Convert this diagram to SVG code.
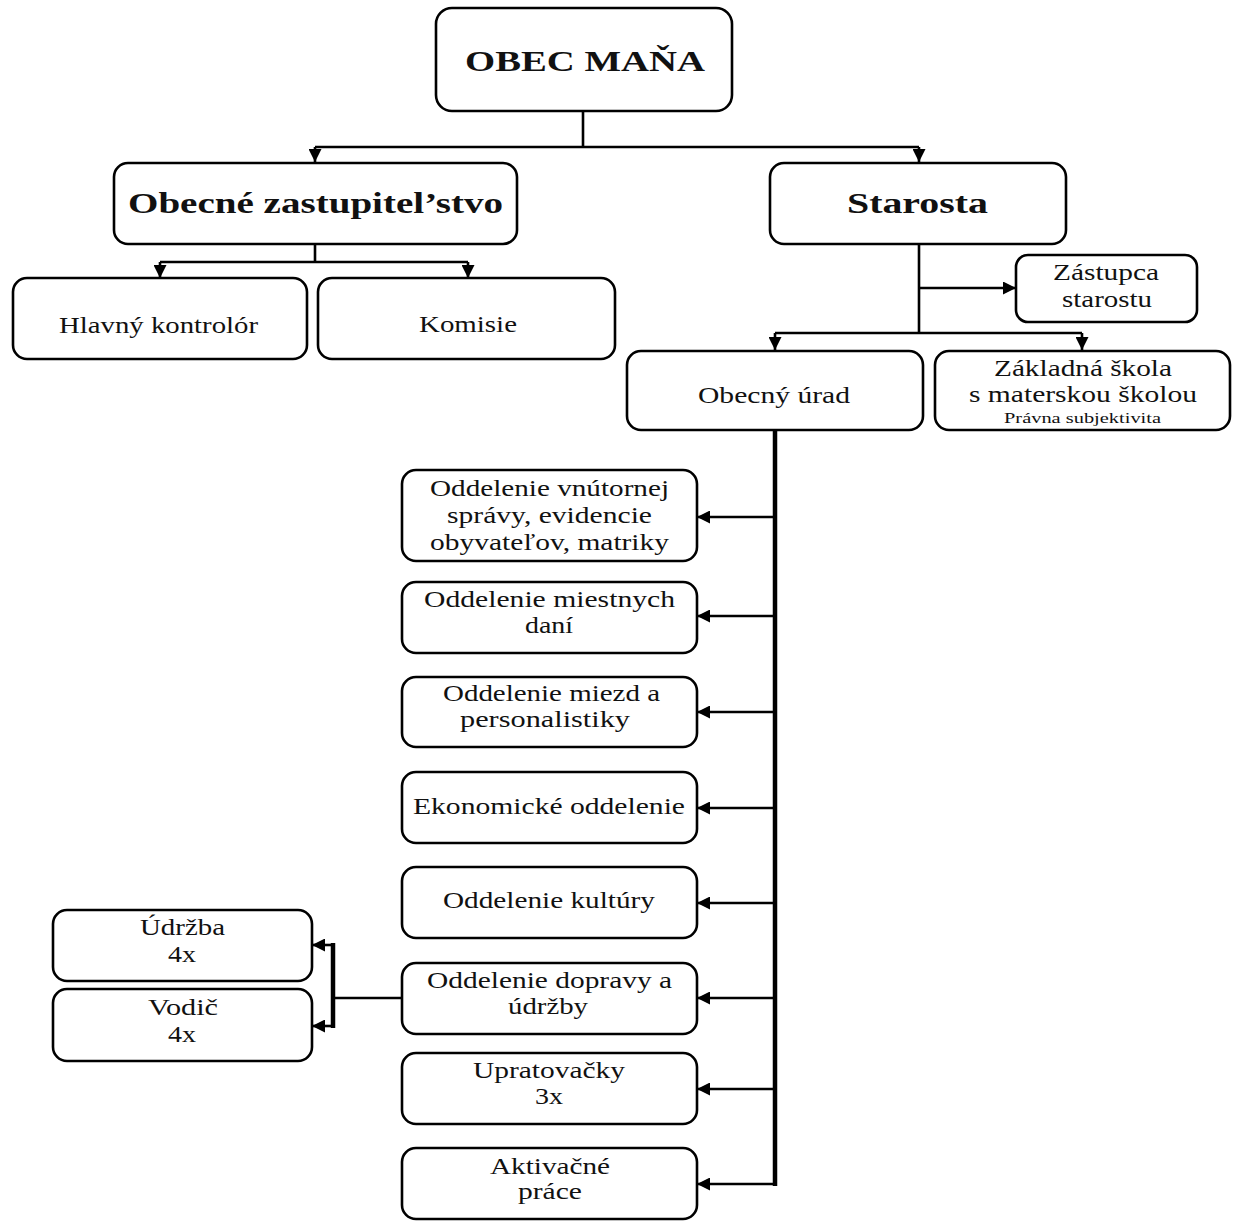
<svg xmlns="http://www.w3.org/2000/svg" width="1234" height="1221" viewBox="0 0 1234 1221">
<style>
text{font-family:'Liberation Serif',Tinos,'Times New Roman',Times,serif;fill:#111;text-anchor:middle}
.box{fill:#fff;stroke:#000;stroke-width:2.6}
.t{font-size:23px}
.b{font-size:30px;font-weight:bold}
.s{font-size:15px}
.c{fill:none;stroke:#000;stroke-width:2.6}
.k{fill:none;stroke:#000;stroke-width:4.5}
</style>
<defs>
<marker id="arr" viewBox="0 0 12 12" refX="12" refY="6" markerWidth="13" markerHeight="13" markerUnits="userSpaceOnUse" orient="auto">
<path d="M0,0 L12,6 L0,12 z" fill="#000"/>
</marker>
</defs>
<rect width="1234" height="1221" fill="#fff"/>

<g id="connectors">
<path class="c" d="M583,111 V147"/>
<path class="c" d="M315,147 H919"/>
<path class="c" d="M315,147 V162" marker-end="url(#arr)"/>
<path class="c" d="M919,147 V162" marker-end="url(#arr)"/>
<path class="c" d="M315,244 V262"/>
<path class="c" d="M160,262 H468"/>
<path class="c" d="M160,262 V278" marker-end="url(#arr)"/>
<path class="c" d="M468,262 V278" marker-end="url(#arr)"/>
<path class="c" d="M919,244 V333"/>
<path class="c" d="M919,288 H1016" marker-end="url(#arr)"/>
<path class="c" d="M775,333 H1082"/>
<path class="c" d="M775,333 V350" marker-end="url(#arr)"/>
<path class="c" d="M1082,333 V350" marker-end="url(#arr)"/>
<path class="k" d="M775,430 V1186"/>
<path class="c" d="M775,517 H697" marker-end="url(#arr)"/>
<path class="c" d="M775,616 H697" marker-end="url(#arr)"/>
<path class="c" d="M775,712 H697" marker-end="url(#arr)"/>
<path class="c" d="M775,808 H697" marker-end="url(#arr)"/>
<path class="c" d="M775,903 H697" marker-end="url(#arr)"/>
<path class="c" d="M775,998 H697" marker-end="url(#arr)"/>
<path class="c" d="M775,1089 H697" marker-end="url(#arr)"/>
<path class="c" d="M775,1184 H697" marker-end="url(#arr)"/>
<path class="c" d="M402,998 H333"/>
<path class="k" d="M333,943 V1028"/>
<path class="c" d="M333,945 H312" marker-end="url(#arr)"/>
<path class="c" d="M333,1026 H312" marker-end="url(#arr)"/>
</g>

<g id="obec">
<rect class="box" x="436" y="8" width="296" height="103" rx="16"/>
<text class="b" x="585" y="71" textLength="240" lengthAdjust="spacingAndGlyphs">OBEC MAŇA</text>
</g>
<g id="zastupitelstvo">
<rect class="box" x="114" y="163" width="403" height="81" rx="14"/>
<text class="b" x="315.5" y="213" textLength="375" lengthAdjust="spacingAndGlyphs">Obecné zastupitel’stvo</text>
</g>
<g id="starosta">
<rect class="box" x="770" y="163" width="296" height="81" rx="14"/>
<text class="b" x="917.5" y="213" textLength="141" lengthAdjust="spacingAndGlyphs">Starosta</text>
</g>
<g id="kontrolor">
<rect class="box" x="13" y="278" width="294" height="81" rx="14"/>
<text class="t" x="158.5" y="333" textLength="199" lengthAdjust="spacingAndGlyphs">Hlavný kontrolór</text>
</g>
<g id="komisie">
<rect class="box" x="318" y="278" width="297" height="81" rx="14"/>
<text class="t" x="468" y="332" textLength="98" lengthAdjust="spacingAndGlyphs">Komisie</text>
</g>
<g id="zastupca">
<rect class="box" x="1016" y="255" width="181" height="67" rx="12"/>
<text class="t" x="1106" y="280" textLength="106" lengthAdjust="spacingAndGlyphs">Zástupca</text>
<text class="t" x="1107" y="307" textLength="90" lengthAdjust="spacingAndGlyphs">starostu</text>
</g>
<g id="urad">
<rect class="box" x="627" y="351" width="296" height="79" rx="14"/>
<text class="t" x="774" y="403" textLength="152" lengthAdjust="spacingAndGlyphs">Obecný úrad</text>
</g>
<g id="skola">
<rect class="box" x="935" y="351" width="295" height="79" rx="14"/>
<text class="t" x="1083" y="376" textLength="178" lengthAdjust="spacingAndGlyphs">Základná škola</text>
<text class="t" x="1083" y="402" textLength="228" lengthAdjust="spacingAndGlyphs">s materskou školou</text>
<text class="s" x="1082.5" y="423" textLength="157" lengthAdjust="spacingAndGlyphs">Právna subjektivita</text>
</g>
<g id="vnutorna">
<rect class="box" x="402" y="470" width="295" height="91" rx="14"/>
<text class="t" x="549.5" y="496" textLength="239" lengthAdjust="spacingAndGlyphs">Oddelenie vnútornej</text>
<text class="t" x="549.5" y="523" textLength="205" lengthAdjust="spacingAndGlyphs">správy, evidencie</text>
<text class="t" x="549.5" y="550" textLength="239" lengthAdjust="spacingAndGlyphs">obyvateľov, matriky</text>
</g>
<g id="dane">
<rect class="box" x="402" y="582" width="295" height="71" rx="14"/>
<text class="t" x="549.5" y="607" textLength="251" lengthAdjust="spacingAndGlyphs">Oddelenie miestnych</text>
<text class="t" x="549" y="633" textLength="48" lengthAdjust="spacingAndGlyphs">daní</text>
</g>
<g id="mzdy">
<rect class="box" x="402" y="677" width="295" height="70" rx="14"/>
<text class="t" x="551.5" y="701" textLength="217" lengthAdjust="spacingAndGlyphs">Oddelenie miezd a</text>
<text class="t" x="545" y="727" textLength="170" lengthAdjust="spacingAndGlyphs">personalistiky</text>
</g>
<g id="ekonomicke">
<rect class="box" x="402" y="772" width="295" height="71" rx="14"/>
<text class="t" x="549" y="814" textLength="272" lengthAdjust="spacingAndGlyphs">Ekonomické oddelenie</text>
</g>
<g id="kultura">
<rect class="box" x="402" y="867" width="295" height="71" rx="14"/>
<text class="t" x="549" y="908" textLength="212" lengthAdjust="spacingAndGlyphs">Oddelenie kultúry</text>
</g>
<g id="doprava">
<rect class="box" x="402" y="963" width="295" height="71" rx="14"/>
<text class="t" x="549.5" y="988" textLength="245" lengthAdjust="spacingAndGlyphs">Oddelenie dopravy a</text>
<text class="t" x="548" y="1014" textLength="80" lengthAdjust="spacingAndGlyphs">údržby</text>
</g>
<g id="upratovacky">
<rect class="box" x="402" y="1053" width="295" height="71" rx="14"/>
<text class="t" x="549" y="1078" textLength="152" lengthAdjust="spacingAndGlyphs">Upratovačky</text>
<text class="t" x="549" y="1104" textLength="28" lengthAdjust="spacingAndGlyphs">3x</text>
</g>
<g id="aktivacne">
<rect class="box" x="402" y="1148" width="295" height="71" rx="14"/>
<text class="t" x="550" y="1174" textLength="120" lengthAdjust="spacingAndGlyphs">Aktivačné</text>
<text class="t" x="550" y="1199" textLength="64" lengthAdjust="spacingAndGlyphs">práce</text>
</g>
<g id="udrzba">
<rect class="box" x="53" y="910" width="259" height="71" rx="14"/>
<text class="t" x="182.5" y="935" textLength="85" lengthAdjust="spacingAndGlyphs">Údržba</text>
<text class="t" x="182" y="962" textLength="28" lengthAdjust="spacingAndGlyphs">4x</text>
</g>
<g id="vodic">
<rect class="box" x="53" y="989" width="259" height="72" rx="14"/>
<text class="t" x="183" y="1015" textLength="70" lengthAdjust="spacingAndGlyphs">Vodič</text>
<text class="t" x="182" y="1042" textLength="28" lengthAdjust="spacingAndGlyphs">4x</text>
</g>
</svg>
